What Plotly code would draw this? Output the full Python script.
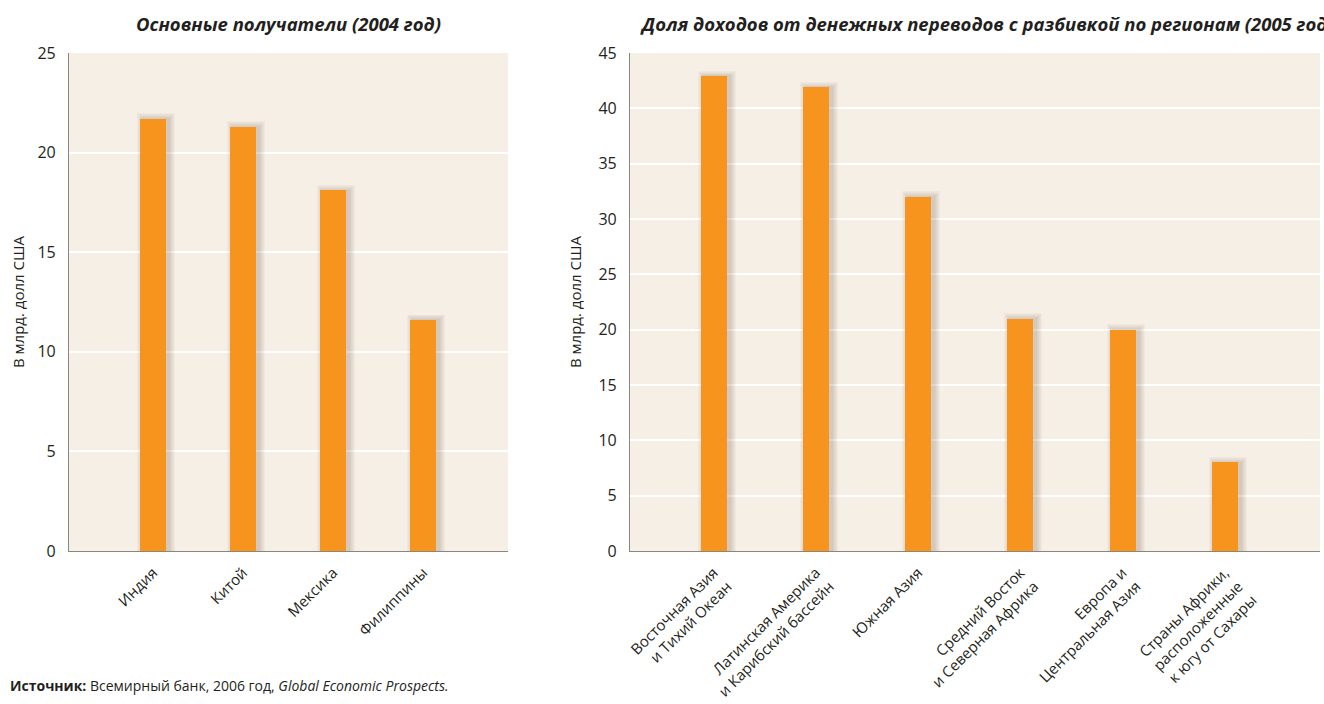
import plotly.graph_objects as go

# ---- data -------------------------------------------------------------
top_countries = ["Индия", "Китой", "Мексика", "Филиппины"]
top_values = [21.7, 21.3, 18.1, 11.6]

regions = [
    "Восточная Азия<br>и Тихий Океан",
    "Латинская Америка<br>и Карибский бассейн",
    "Южная Азия",
    "Средний Восток<br>и Северная Африка",
    "Европа и<br>Центральная Азия",
    "Страны Африки,<br>расположенные<br>к югу от Сахары",
]
region_values = [42.9, 41.9, 32.0, 21.0, 20.0, 8.0]

left_ticks = [0, 5, 10, 15, 20, 25]
right_ticks = [0, 5, 10, 15, 20, 25, 30, 35, 40, 45]

left_title = "Основные получатели (2004 год)"
right_title = "Доля доходов от денежных переводов с разбивкой по регионам (2005 год)"
y_title = "В млрд. долл США"
source_note = "<b>Источник:</b> Всемирный банк, 2006 год, <i>Global Economic Prospects.</i>"

# ---- page geometry (pixels) -----------------------------------------
W, H = 1324, 704
PLOT_TOP, PLOT_BOTTOM = 53, 551
LEFT_X0, LEFT_X1 = 69, 508
RIGHT_X0, RIGHT_X1 = 630, 1320
LEFT_STEP, RIGHT_STEP = 90.0, 102.2        # px between category centres
LEFT_FIRST, RIGHT_FIRST = 153.0, 713.7     # px centre of first category
BAR_PX = 26

FONT = "Open Sans"
TEXT = "#231F20"
ORANGE = "#F7941D"
PLOT_BG = "#F6EFE6"
AXIS_GREY = "#8A8580"


def px_x(p):
    return p / W


def px_y(p):
    return 1 - p / H


fig = go.Figure()


def add_bars(cats, vals, xa, ya, step, units_per_px_y):
    bar_w = BAR_PX / step
    shift = 3 / step
    # soft drop shadow: translucent layers, each slightly wider and taller
    for k in range(1, 7):
        w = bar_w + 2 * k / step
        fig.add_trace(go.Bar(
            x=cats, y=[v + k * 0.9 * units_per_px_y for v in vals],
            width=w, offset=-w / 2 + shift,
            marker=dict(color="rgba(90,70,50,0.04)", line_width=0),
            xaxis=xa, yaxis=ya, hoverinfo="skip", showlegend=False,
        ))
    fig.add_trace(go.Bar(
        x=cats, y=vals, width=bar_w, offset=-bar_w / 2,
        marker=dict(color=ORANGE, line_width=0),
        xaxis=xa, yaxis=ya, showlegend=False,
    ))


left_units_per_px = 25 / (PLOT_BOTTOM - PLOT_TOP)
right_units_per_px = 45 / (PLOT_BOTTOM - PLOT_TOP)

add_bars(top_countries, top_values, "x", "y", LEFT_STEP, left_units_per_px)
add_bars(regions, region_values, "x2", "y2", RIGHT_STEP, right_units_per_px)

ydom = [px_y(PLOT_BOTTOM), px_y(PLOT_TOP)]

xaxis_common = dict(
    type="category", showgrid=False, zeroline=False, automargin=False,
    showline=True, linecolor=AXIS_GREY, linewidth=1.2,
    ticks="", tickangle=-45, ticklabelstandoff=6,
    tickfont=dict(family=FONT, size=15, color=TEXT),
    fixedrange=True,
)
yaxis_common = dict(
    showgrid=True, gridcolor="white", gridwidth=2, automargin=False,
    zeroline=False, showline=True, linecolor=AXIS_GREY, linewidth=1.2,
    ticks="", ticklabelstandoff=9,
    tickfont=dict(family=FONT, size=16, color=TEXT),
    domain=ydom, fixedrange=True,
)

left_lo = (LEFT_X0 - LEFT_FIRST) / LEFT_STEP
left_hi = (LEFT_X1 - LEFT_FIRST) / LEFT_STEP
right_lo = (RIGHT_X0 - RIGHT_FIRST) / RIGHT_STEP
right_hi = (RIGHT_X1 - RIGHT_FIRST) / RIGHT_STEP

fig.update_layout(
    width=W, height=H,
    margin=dict(l=0, r=0, t=0, b=0, autoexpand=False),
    paper_bgcolor="white",
    plot_bgcolor=PLOT_BG,
    barmode="overlay",
    bargap=0,
    font=dict(family=FONT, color=TEXT),
    xaxis=dict(xaxis_common, domain=[px_x(LEFT_X0), px_x(LEFT_X1)],
               range=[left_lo, left_hi], anchor="y"),
    yaxis=dict(yaxis_common, range=[0, 25], tickvals=left_ticks, anchor="x"),
    xaxis2=dict(xaxis_common, domain=[px_x(RIGHT_X0), px_x(RIGHT_X1)],
                range=[right_lo, right_hi], anchor="y2"),
    yaxis2=dict(yaxis_common, range=[0, 45], tickvals=right_ticks, anchor="x2"),
)

annotations = [
    dict(text=f"<b><i>{left_title}</i></b>", x=px_x((LEFT_X0 + LEFT_X1) / 2), y=px_y(24),
         xanchor="center", yanchor="middle", font=dict(size=18.5, color=TEXT, family=FONT)),
    dict(text=f"<b><i>{right_title}</i></b>", x=px_x(638), y=px_y(24),
         xanchor="left", yanchor="middle", font=dict(size=18.5, color=TEXT, family=FONT)),
    dict(text=y_title, x=px_x(18), y=px_y(302), textangle=-90,
         xanchor="center", yanchor="middle", font=dict(size=15, color=TEXT, family=FONT)),
    dict(text=y_title, x=px_x(575), y=px_y(302), textangle=-90,
         xanchor="center", yanchor="middle", font=dict(size=15, color=TEXT, family=FONT)),
    dict(text=source_note, x=px_x(8), y=px_y(685),
         xanchor="left", yanchor="middle", font=dict(size=14, color=TEXT, family=FONT)),
]
fig.update_layout(annotations=[dict(a, xref="paper", yref="paper", showarrow=False)
                               for a in annotations])

fig.write_html("out.html", config={"displayModeBar": False})
